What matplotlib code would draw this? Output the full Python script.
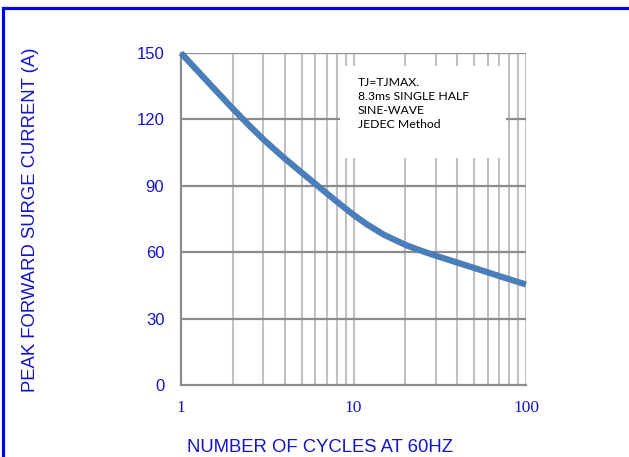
import matplotlib
matplotlib.use("Agg")
import matplotlib.pyplot as plt
from matplotlib.patches import Rectangle
from matplotlib.ticker import FixedLocator, NullFormatter, FixedFormatter

cycles = [1, 1.5, 2, 2.5, 3, 3.5, 4, 5, 6, 7, 8, 9, 10, 12, 15, 20, 25, 30, 40, 50, 60, 70, 80, 100]
current = [150, 135.2, 124.8, 117, 111, 106.3, 102.3, 96, 90.9, 86.6, 82.9, 79.7, 76.9,
           72.5, 67.9, 63.3, 60.5, 58.4, 55.3, 52.9, 50.9, 49.2, 47.8, 45.4]

x_major = [1, 10, 100]
x_major_labels = ["1", "10", "100"]
y_ticks = [0, 30, 60, 90, 120, 150]
y_tick_labels = ["0", "30", "60", "90", "120", "150"]
note_lines = ["TJ=TJMAX.", "8.3ms SINGLE HALF", "SINE-WAVE", "JEDEC Method"]

TEXT_BLUE = "#1414c8"
W, H = 629, 457
fig = plt.figure(figsize=(W / 100, H / 100), dpi=100)
ax = fig.add_axes([181 / W, 1 - 385 / H, 345 / W, 332 / H])

ax.set_xscale("log")
ax.set_xlim(1, 100)
ax.set_ylim(0, 150)

minor = [m * d for d in (1, 10) for m in range(2, 10)] + [10]
ax.xaxis.set_major_locator(FixedLocator(x_major))
ax.xaxis.set_major_formatter(FixedFormatter(x_major_labels))
ax.xaxis.set_minor_locator(FixedLocator(minor))
ax.xaxis.set_minor_formatter(NullFormatter())
ax.yaxis.set_major_locator(FixedLocator(y_ticks))
ax.yaxis.set_major_formatter(FixedFormatter(y_tick_labels))

for xv in minor + [100]:
    ax.axvline(xv, color="#c0c0c0", lw=1.5, zorder=1)
for yv in y_ticks[1:]:
    ax.axhline(yv, color="#8c8c8c", lw=1.6, zorder=1)

for s in ["left", "bottom"]:
    ax.spines[s].set_color("#8c8c8c")
    ax.spines[s].set_linewidth(1.6)
ax.spines["top"].set_visible(False)
ax.spines["right"].set_visible(False)

ax.tick_params(axis="both", which="both", length=0)
ax.tick_params(axis="y", pad=12, labelsize=12, labelcolor=TEXT_BLUE)
ax.tick_params(axis="x", pad=11, labelsize=12.5, labelcolor=TEXT_BLUE)
for lab in ax.get_yticklabels():
    lab.set_fontfamily("Liberation Sans")
for lab in ax.get_xticklabels():
    lab.set_fontfamily("Liberation Serif")

# note box
ax.add_patch(Rectangle(((340 - 181) / 345, (385 - 158) / 332), (506 - 340) / 345, (158 - 66) / 332,
                       transform=ax.transAxes, facecolor="white", edgecolor="none", zorder=2))
ax.text((358 - 181) / 345, (385 - 77) / 332, "\n".join(note_lines), transform=ax.transAxes,
        fontsize=8.8, family="Lato", color="black", va="top", ha="left",
        linespacing=1.33, zorder=3)

ax.plot(cycles, current, color="#4a7ebb", lw=4.5, solid_capstyle="butt", solid_joinstyle="round",
        zorder=4, clip_on=False)

fig.text(31 / W, 1 - 220 / H, "PEAK FORWARD SURGE CURRENT (A)", rotation=90, ha="center", va="center",
         fontsize=13.3, family="Liberation Sans", color=TEXT_BLUE)
fig.text(320 / W, 1 - 447 / H, "NUMBER OF CYCLES AT 60HZ", ha="center", va="center",
         fontsize=13.3, family="Liberation Sans", color=TEXT_BLUE)

fig.patches.append(Rectangle((3 / W, -0.2), 1.5, (H - 7.5) / H + 0.2, transform=fig.transFigure,
                             fill=False, edgecolor="#0000ee", lw=2.3, clip_on=False))

fig.savefig("out.png", dpi=100)
